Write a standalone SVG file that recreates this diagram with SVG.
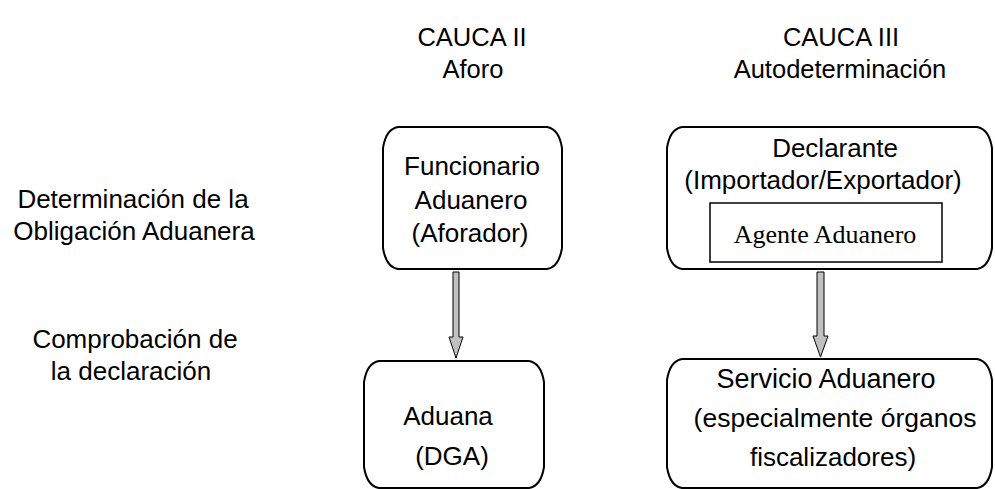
<svg xmlns="http://www.w3.org/2000/svg" width="995" height="489" viewBox="0 0 995 489">
  <defs>
    <style>
      .lbl { font-family: "Liberation Sans", Arial, sans-serif; font-size: 26px; fill: #000; text-anchor: middle; }
      .hdr { font-size: 25.5px; }
      .serif { font-family: "Liberation Serif", "Times New Roman", serif; font-size: 26px; fill: #000; text-anchor: middle; }
      .box { fill: #fff; stroke: #000; stroke-width: 2; }
      .inner { fill: #fff; stroke: #000; stroke-width: 1.5; }
      .arrow { fill: #c0c0c0; stroke: #000; stroke-width: 1; }
    </style>
  </defs>
  <rect width="995" height="489" fill="#fff"/>

  <!-- column headers -->
  <g id="header-cauca2">
    <text class="lbl hdr" x="472" y="46">CAUCA II</text>
    <text class="lbl hdr" x="473" y="78">Aforo</text>
  </g>
  <g id="header-cauca3">
    <text class="lbl hdr" x="841" y="46">CAUCA III</text>
    <text class="lbl hdr" x="840" y="78">Autodeterminación</text>
  </g>

  <!-- row labels -->
  <g id="row-determinacion">
    <text class="lbl" x="133" y="208">Determinación de la</text>
    <text class="lbl" x="134" y="240">Obligación Aduanera</text>
  </g>
  <g id="row-comprobacion">
    <text class="lbl" x="135" y="348">Comprobación de</text>
    <text class="lbl" x="131" y="380">la declaración</text>
  </g>

  <!-- nodes -->
  <g id="funcionario">
    <path class="box" d="M398,127 H547 Q559,129 562,148 V248 Q559,267 547,269 H398 Q386,267 383,248 V148 Q386,129 398,127 Z"/>
    <text class="lbl" x="472" y="175">Funcionario</text>
    <text class="lbl" x="471" y="209">Aduanero</text>
    <text class="lbl" x="470" y="242">(Aforador)</text>
  </g>
  <g id="declarante">
    <path class="box" d="M682,127 H977 Q989,129 992,148 V248 Q989,267 977,269 H682 Q670,267 667,248 V148 Q670,129 682,127 Z"/>
    <text class="lbl" x="835" y="157">Declarante</text>
    <text class="lbl" x="823" y="189">(Importador/Exportador)</text>
    <g id="agente">
      <rect class="inner" x="710" y="203" width="232" height="59"/>
      <text class="serif" x="825" y="243">Agente Aduanero</text>
    </g>
  </g>
  <g id="aduana">
    <path class="box" d="M379,361 H529 Q541,363 544,382 V467 Q541,486 529,488 H379 Q367,486 364,467 V382 Q367,363 379,361 Z"/>
    <text class="lbl" x="448" y="425">Aduana</text>
    <text class="lbl" x="452" y="465">(DGA)</text>
  </g>
  <g id="servicio">
    <path class="box" d="M682,359 H977 Q989,361 992,380 V467 Q989,486 977,488 H682 Q670,486 667,467 V380 Q670,361 682,359 Z"/>
    <text class="lbl" x="826" y="388" style="font-size:27px">Servicio Aduanero</text>
    <text class="lbl" x="835" y="427" style="font-size:26.5px">(especialmente órganos</text>
    <text class="lbl" x="833" y="466">fiscalizadores)</text>
  </g>

  <!-- connectors -->
  <g id="connectors">
    <path class="arrow" d="M453,272 H459 V337 H463 L456,358 L449,337 H453 Z"/>
    <path class="arrow" d="M817,272 H824 V336 H828 L820.5,357 L813,336 H817 Z"/>
  </g>
</svg>
